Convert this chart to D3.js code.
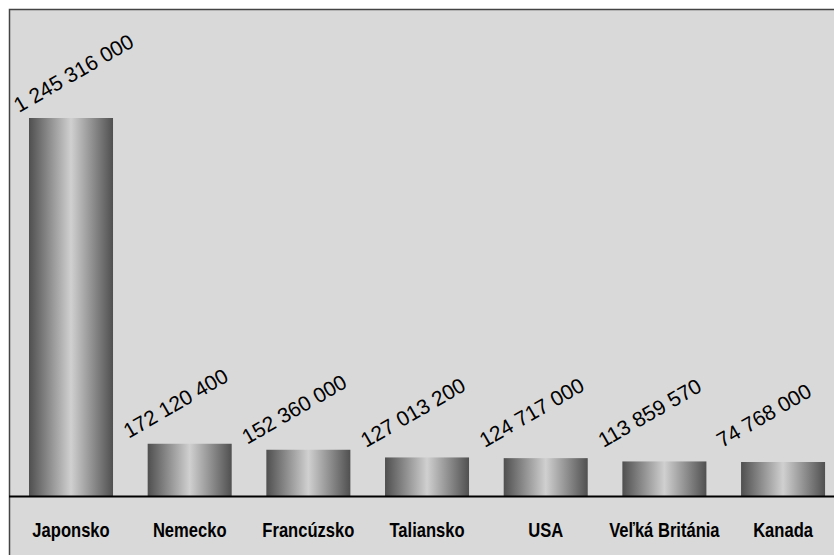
<!DOCTYPE html>
<html>
<head>
<meta charset="utf-8">
<script src="https://cdn.jsdelivr.net/npm/d3@7"></script>
<style>
  body { margin: 0; background: #fff; }
  svg { display: block; }
</style>
</head>
<body>
<svg width="834" height="555"></svg>
<script>
const countries = ["Japonsko", "Nemecko", "Francúzsko", "Taliansko", "USA", "Veľká Británia", "Kanada"];
// bar heights
const values = [1245316000, 172120400, 152360000, 127013200, 124717000, 113859570, 112000000];
// value labels as printed above the bars
const valueLabels = ["1 245 316 000", "172 120 400", "152 360 000", "127 013 200", "124 717 000", "113 859 570", "74 768 000"];

const svg = d3.select("svg");
const W = 834, H = 555;
const baseY = 496;

const defs = svg.append("defs");
const grad = defs.append("linearGradient")
  .attr("id", "barGrad")
  .attr("x1", "0%").attr("x2", "100%").attr("y1", "0%").attr("y2", "0%");
[[0, "#4f4f4f"], [0.5, "#d0d0d0"], [1, "#505050"]].forEach(([o, c]) => {
  grad.append("stop").attr("offset", o).attr("stop-color", c);
});

// panel
svg.append("rect")
  .attr("x", 9.5).attr("y", 9.5)
  .attr("width", W).attr("height", H)
  .attr("fill", "#d9d9d9")
  .attr("stroke", "#444")
  .attr("stroke-width", 1.5);

const x = d3.scaleBand()
  .domain(countries)
  .range([11.67, 842.4])
  .paddingInner(0.292)
  .paddingOuter(0.146);

const y = d3.scaleLinear()
  .domain([0, 1245316000])
  .range([baseY, 118]);

svg.selectAll("rect.bar")
  .data(countries)
  .enter().append("rect")
  .attr("class", "bar")
  .attr("x", d => x(d))
  .attr("y", (d, i) => y(values[i]))
  .attr("width", x.bandwidth())
  .attr("height", (d, i) => baseY - y(values[i]))
  .attr("fill", "url(#barGrad)");

// axis line
svg.append("line")
  .attr("x1", 9).attr("x2", W)
  .attr("y1", baseY + 0.5).attr("y2", baseY + 0.5)
  .attr("stroke", "#000")
  .attr("stroke-width", 2.2);

// value labels
svg.selectAll("text.val")
  .data(countries)
  .enter().append("text")
  .attr("class", "val")
  .attr("transform", (d, i) => {
    const lx = Math.max(x(d) - 19, 19);
    const ly = Math.min(y(values[i]) - 5, 448);
    return `translate(${lx},${ly}) rotate(-30)`;
  })
  .attr("font-family", "Liberation Sans, Arial, sans-serif")
  .attr("font-size", 21)
  .attr("fill", "#000")
  .text((d, i) => valueLabels[i]);

// category labels (condensed bold)
svg.selectAll("text.cat")
  .data(countries)
  .enter().append("text")
  .attr("class", "cat")
  .attr("transform", d => `translate(${x(d) + x.bandwidth() / 2},537) scale(0.85,1)`)
  .attr("text-anchor", "middle")
  .attr("font-family", "Liberation Sans, Arial, sans-serif")
  .attr("font-weight", "bold")
  .attr("font-size", 19.5)
  .attr("fill", "#000")
  .text(d => d);
</script>
</body>
</html>
